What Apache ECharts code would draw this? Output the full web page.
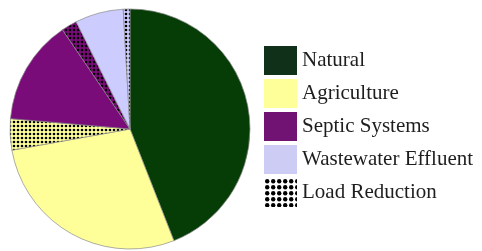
<!DOCTYPE html>
<html><head><meta charset="utf-8">
<script src="https://cdn.jsdelivr.net/npm/echarts@6/dist/echarts.min.js"></script>
<style>html,body{margin:0;padding:0;background:#fff}#c{width:482px;height:251px}</style>
</head><body><div id="c"></div>
<script>
// Data (percent shares, clockwise from 12 o'clock)
const sliceNames = ['Natural','Agriculture','Load Reduction','Septic Systems','Load Reduction','Wastewater Effluent','Load Reduction'];
const sliceValues = [44.0, 28.1, 4.2, 14.1, 2.1, 6.5, 0.9];
const sliceKinds = ['Natural','Agriculture','Agriculture','Septic Systems','Septic Systems','Wastewater Effluent','Wastewater Effluent'];
const sliceHatched = [false,false,true,false,true,false,true];
const legendNames = ['Natural','Agriculture','Septic Systems','Wastewater Effluent','Load Reduction'];

const baseColors = {
  'Natural':'#063d06',
  'Agriculture':'#ffff99',
  'Septic Systems':'#7a0c7a',
  'Wastewater Effluent':'#ccccff'
};
const legendColors = {
  'Natural':'#11301a',
  'Agriculture':'#ffff99',
  'Septic Systems':'#711373',
  'Wastewater Effluent':'#ccccf5'
};

function dotPattern(bg, size, r){
  const c = document.createElement('canvas');
  c.width = size; c.height = size;
  const g = c.getContext('2d');
  g.fillStyle = bg; g.fillRect(0,0,size,size);
  g.fillStyle = '#000';
  g.beginPath(); g.arc(size/2,size/2,r,0,Math.PI*2); g.fill();
  return {image:c, repeat:'repeat'};
}

const data = sliceValues.map((v,i)=>{
  const base = baseColors[sliceKinds[i]];
  return {
    name: sliceNames[i],
    value: v,
    itemStyle: {color: sliceHatched[i] ? dotPattern(base,4,1.3) : base}
  };
});

const legendData = legendNames.map(n=>{
  if(n==='Load Reduction') return {name:n, itemStyle:{color: dotPattern('#fff',6.4,2.2), borderWidth:0}};
  return {name:n, itemStyle:{color: legendColors[n], borderWidth:0}};
});

const chart = echarts.init(document.getElementById('c'), null, {renderer:'canvas'});
chart.setOption({
  animation:false,
  legend:{
    orient:'vertical', left:264, top:46, padding:0,
    itemWidth:33, itemHeight:29, itemGap:4,
    icon:'rect',
    data: legendData,
    itemStyle:{borderWidth:0},
    textStyle:{fontFamily:'Liberation Serif', fontSize:21, color:'#1e1e1e'},
    selectedMode:false
  },
  series:[{
    type:'pie',
    center:[130,129], radius:[0,120],
    startAngle:90, clockwise:true,
    label:{show:false}, labelLine:{show:false},
    itemStyle:{borderColor:'#8a8a8a', borderWidth:0.7},
    emphasis:{disabled:true},
    data: data
  }]
});
</script></body></html>
